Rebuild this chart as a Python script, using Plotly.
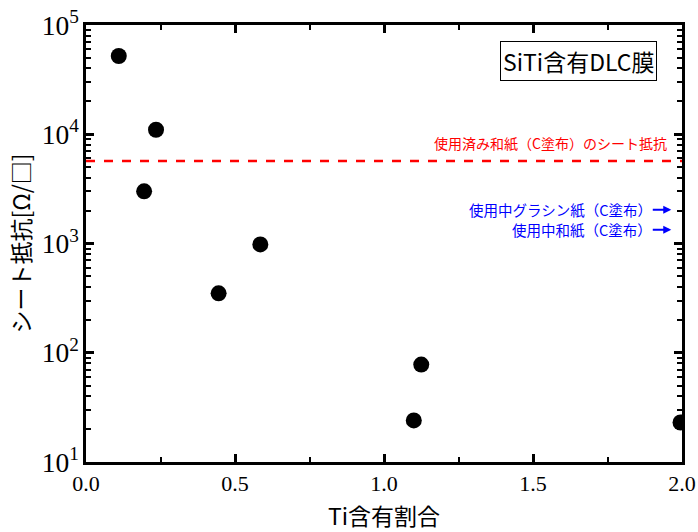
import plotly.graph_objects as go

# Ti content ratio vs. sheet resistance of SiTi-containing DLC films
ti_ratio = [0.11, 0.235, 0.195, 0.445, 0.585, 1.10, 1.125, 1.995]
sheet_resistance = [5.2e4, 1.1e4, 3.0e3, 350, 980, 24, 78, 23]

# reference level: used washi paper (C coated)
used_washi_level = 5.7e3

x_ticks = [0.0, 0.5, 1.0, 1.5, 2.0]
x_tick_labels = ["0.0", "0.5", "1.0", "1.5", "2.0"]
# minor tick positions on the log axis: 2..9 within each decade
y_minor_ticks = [m * d for d in [10, 100, 1000, 10000] for m in range(2, 10)]

sans = "Noto Sans CJK JP"
serif = "Liberation Serif"

fig = go.Figure()

fig.add_trace(go.Scatter(
    x=ti_ratio, y=sheet_resistance, mode="markers",
    marker=dict(color="black", size=16),
    showlegend=False,
))

fig.add_trace(go.Scatter(
    x=[0.0, 2.0], y=[used_washi_level, used_washi_level], mode="lines",
    line=dict(color="#ff0000", width=2.5, dash="dash"),
    showlegend=False, hoverinfo="skip",
))

# empty trace that carries the right-hand overlay axis (minor ticks on the right frame)
fig.add_trace(go.Scatter(
    x=[None], y=[None], yaxis="y2", showlegend=False, hoverinfo="skip",
))

axis_common = dict(
    showline=True, linecolor="black", linewidth=2.5, mirror="ticks",
    ticks="inside", ticklen=8, tickwidth=2.5, tickcolor="black",
    showgrid=False, zeroline=False, automargin=False,
    tickfont=dict(family=serif, size=22, color="black"),
)

fig.update_xaxes(
    range=[0, 2.0], tickvals=x_ticks, ticktext=x_tick_labels,
    minor=dict(ticks="inside", ticklen=5, tickwidth=2, tickcolor="black", dtick=0.25, tick0=0),
    title=dict(text="Ti含有割合", font=dict(family=sans, size=23, color="black"), standoff=19),
    **axis_common,
)
fig.update_yaxes(
    type="log", range=[1, 5], tickmode="linear", tick0=0, dtick=1,
    exponentformat="power", showexponent="all",
    labelalias={"10": "10<sup>1</sup>"},
    minor=dict(ticks="inside", ticklen=5, tickwidth=2, tickcolor="black", dtick="D1", showgrid=False),
    title=dict(text="シート抵抗[Ω/□]", font=dict(family=sans, size=23, color="black"), standoff=5),
    **axis_common,
)

fig.update_layout(
    yaxis2=dict(
        overlaying="y", side="right", anchor="x", type="log", range=[1, 5],
        tickmode="array", tickvals=y_minor_ticks, showticklabels=False,
        ticks="inside", ticklen=5, tickwidth=2, tickcolor="black",
        showline=False, showgrid=False, zeroline=False, automargin=False,
    ),
)

fig.add_annotation(
    x=0.958, y=0.918, xref="paper", yref="paper", xanchor="right", yanchor="middle",
    text="SiTi含有DLC膜", showarrow=False,
    font=dict(family=sans, size=23, color="black"),
    bordercolor="black", borderwidth=1, borderpad=2, bgcolor="white",
)

fig.add_annotation(
    x=0.978, y=3.92, xref="paper", yref="y", xanchor="right", yanchor="middle",
    text="使用済み和紙（C塗布）のシート抵抗", showarrow=False,
    font=dict(family=sans, size=14, color="#ff0000"),
)

for label, y_level in [("使用中グラシン紙（C塗布）", 3.31), ("使用中和紙（C塗布）", 3.125)]:
    fig.add_annotation(
        x=0.982, y=y_level, xref="paper", yref="y",
        ax=-20, ay=0, axref="pixel", ayref="pixel",
        text="", showarrow=True, arrowhead=2, arrowsize=0.8, arrowwidth=2,
        arrowcolor="#0000ff",
    )
    fig.add_annotation(
        x=0.953, y=y_level, xref="paper", yref="y", xanchor="right", yanchor="middle",
        text=label, showarrow=False,
        font=dict(family=sans, size=14.5, color="#0000ff"),
    )

fig.update_layout(
    width=698, height=532,
    margin=dict(l=86, r=16, t=25, b=70),
    paper_bgcolor="white", plot_bgcolor="white",
)

fig.write_html("out.html")
